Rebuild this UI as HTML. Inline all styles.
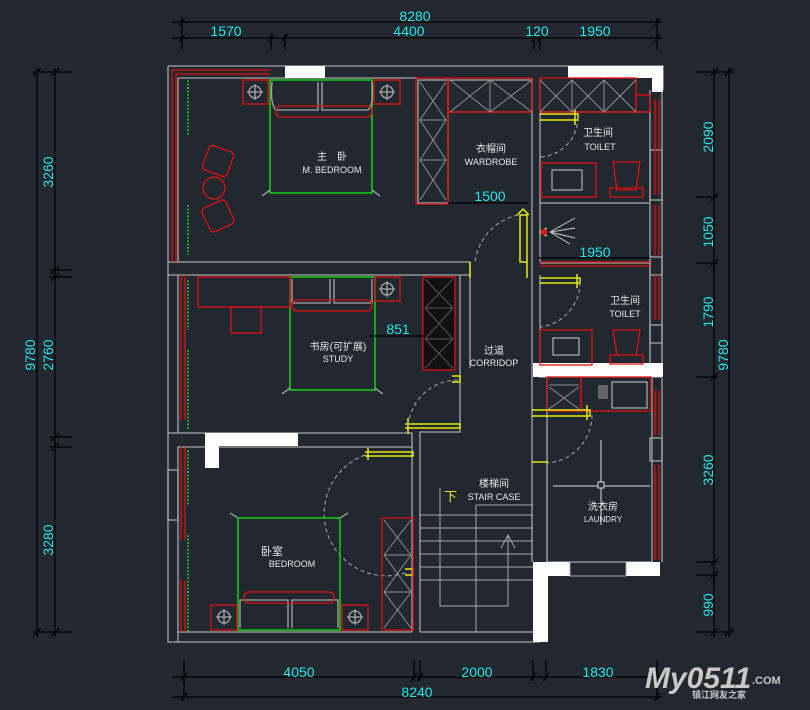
<!DOCTYPE html>
<html><head><meta charset="utf-8"><style>
html,body{margin:0;padding:0;background:#212830;}
svg{display:block}
text{font-family:"Liberation Sans","Noto Sans CJK SC",sans-serif;}
.c{fill:#22e6e6;font-size:14px;}
.w{fill:#e8e8e8;font-size:10px;text-anchor:middle}
.g{stroke:#a8a8a8;fill:none;stroke-width:1.3}
.r{stroke:#e01010;fill:none;stroke-width:1.3}
.gr{stroke:#10d010;fill:none;stroke-width:1.5}
.y{stroke:#e8e810;fill:none;stroke-width:1.5}
.k{stroke:#000;stroke-width:1.2;fill:none}
.wh{fill:#fff}
</style></head><body>
<svg width="810" height="710" viewBox="0 0 810 710">
<!-- TOP DIMENSIONS -->
<g class="k">
<line x1="172" y1="22" x2="662" y2="22"/><line x1="172" y1="38" x2="662" y2="38"/>
<path d="M182 18V50M271 34V50M285 34V50M534 34V50M540 34V50M657 18V50"/>
<path d="M179 26l6-8M179 42l6-8M268 42l6-8M282 42l6-8M531 42l6-8M537 42l6-8M654 26l6-8M654 42l6-8"/>
</g>
<text class="c" x="415" y="21" text-anchor="middle">8280</text>
<text class="c" x="226" y="36" text-anchor="middle">1570</text>
<text class="c" x="409" y="36" text-anchor="middle">4400</text>
<text class="c" x="537" y="36" text-anchor="middle">120</text>
<text class="c" x="595" y="36" text-anchor="middle">1950</text>
<!-- LEFT DIMENSIONS -->
<g class="k">
<line x1="37" y1="68" x2="37" y2="637"/><line x1="55" y1="68" x2="55" y2="637"/>
<path d="M33 72H72M33 632H72M50 270H72M50 277H72M50 437H72M50 447H72"/>
<path d="M33 76l8-8M51 76l8-8M51 274l8-8M51 281l8-8M51 441l8-8M51 451l8-8M33 636l8-8M51 636l8-8"/>
</g>
<text class="c" transform="translate(53,172) rotate(-90)" text-anchor="middle">3260</text>
<text class="c" transform="translate(53,355) rotate(-90)" text-anchor="middle">2760</text>
<text class="c" transform="translate(53,540) rotate(-90)" text-anchor="middle">3280</text>
<text class="c" transform="translate(35,355) rotate(-90)" text-anchor="middle">9780</text>
<!-- RIGHT DIMENSIONS -->
<g class="k">
<line x1="714" y1="68" x2="714" y2="637"/><line x1="729" y1="68" x2="729" y2="637"/>
<path d="M696 72H734M696 197H718M696 263H718M696 377H718M696 562H718M696 575H718M696 632H734"/>
<path d="M710 76l8-8M710 201l8-8M710 267l8-8M710 381l8-8M710 566l8-8M710 579l8-8M710 636l8-8M725 636l8-8M725 76l8-8"/>
</g>
<text class="c" transform="translate(713,137) rotate(-90)" text-anchor="middle">2090</text>
<text class="c" transform="translate(713,232) rotate(-90)" text-anchor="middle">1050</text>
<text class="c" transform="translate(713,312) rotate(-90)" text-anchor="middle">1790</text>
<text class="c" transform="translate(713,470) rotate(-90)" text-anchor="middle">3260</text>
<text class="c" transform="translate(713,605) rotate(-90)" text-anchor="middle">990</text>
<text class="c" transform="translate(728,355) rotate(-90)" text-anchor="middle">9780</text>
<!-- BOTTOM DIMENSIONS -->
<g class="k">
<line x1="172" y1="677" x2="662" y2="677"/><line x1="172" y1="697" x2="662" y2="697"/>
<path d="M184 660V700M414 660V681M420 660V681M533 660V681M546 660V681M657 660V700"/>
<path d="M181 681l6-8M411 681l6-8M417 681l6-8M530 681l6-8M543 681l6-8M654 681l6-8M181 701l6-8M654 701l6-8"/>
</g>
<text class="c" x="299" y="677" text-anchor="middle">4050</text>
<text class="c" x="477" y="677" text-anchor="middle">2000</text>
<text class="c" x="598" y="677" text-anchor="middle">1830</text>
<text class="c" x="417" y="697" text-anchor="middle">8240</text>
<!-- LOGO -->
<text x="645" y="688" style="font-size:30px;font-weight:bold;fill:#c8c8c8;font-style:italic">My0511</text>
<text x="752" y="684" style="font-size:11px;font-weight:bold;fill:#c8c8c8">.COM</text>
<text x="692" y="698" style="font-size:9px;font-weight:bold;fill:#c8c8c8">镇江网友之家</text>

<!-- WALLS -->
<g class="g">
<path d="M168 66H663V90M168 66V642H540"/>
<path d="M178 78H418M178 78V262M168 262H470V275H168M178 275V433"/>
<path d="M168 433H412V447H178V632H412"/>
<path d="M178 632V642"/>
<rect x="418" y="80" width="30" height="123"/>
<path d="M448 80H532V112H448"/>
<path d="M532 78V262M540 78V262M540 203H650M540 263H650M540 112H650"/>
<path d="M650 90V377M662 90V377"/>
<path d="M470 275V368M460 275V432H420V632M412 447V632"/>
<path d="M532 262V562M540 275V378M547 378V562M540 377H662M547 562H652M652 378V562M662 378V562"/>
<path d="M420 632H540"/>
</g>
<rect class="wh" x="285" y="66" width="40" height="12"/>
<rect class="wh" x="568" y="66" width="95" height="12"/>
<rect class="wh" x="652" y="66" width="11" height="26"/>
<rect class="wh" x="533" y="363" width="130" height="14"/>
<rect class="wh" x="205" y="433" width="93" height="13"/>
<rect class="wh" x="205" y="433" width="14" height="35"/>
<rect class="wh" x="533" y="562" width="37" height="14"/>
<rect class="wh" x="626" y="562" width="34" height="14"/>
<rect class="wh" x="533" y="562" width="15" height="80"/>
<rect x="570" y="562" width="56" height="14" fill="none" stroke="#a8a8a8"/>
<g class="g"><rect x="650" y="150" width="12" height="50"/><rect x="650" y="257" width="12" height="18"/><rect x="650" y="325" width="12" height="18"/><rect x="650" y="438" width="12" height="23"/><rect x="168" y="470" width="10" height="50"/></g>
<g class="r">
<path d="M172 70V262M176 74V262M172 70H270M176 74H270"/>
<path d="M181 275V420M185 275V420M181 447V540M185 447V540M181 580V632M185 580V632"/>
<path d="M655 100V195M659 100V195M655 205V255M659 205V255M655 275V320M659 275V320M655 390V435M659 390V435M655 465V560M659 465V560"/>
</g>
<g stroke="#10d010" stroke-width="1.5" fill="none" stroke-dasharray="2 1.5">
<path d="M188 80V135M188 205V255M188 280V330M188 350V430M188 450V505M188 535V632"/>
</g>
<!-- MASTER BEDROOM -->
<rect class="gr" x="270" y="80" width="102" height="113"/>
<g class="g"><path d="M272 82Q270 105 276 110H318V82M322 82V110H368Q374 105 372 82"/><path d="M270 190l-8 6M372 190l8 6"/></g>
<rect class="r" x="276" y="106" width="96" height="11" rx="5"/>
<rect class="r" x="243" y="80" width="25" height="24"/><rect class="r" x="374" y="80" width="26" height="24"/>
<g class="g"><circle cx="255" cy="92" r="6"/><circle cx="387" cy="92" r="6"/><path d="M247 92H263M255 84V100M379 92H395M387 84V100"/></g>
<g class="r"><rect x="205" y="148" width="26" height="26" rx="4" transform="rotate(20 218 161)"/><circle cx="214" cy="188" r="11"/><rect x="205" y="203" width="26" height="26" rx="4" transform="rotate(-25 218 216)"/></g>
<text class="w" x="332" y="160">主　卧</text><text class="w" x="332" y="173" style="font-size:9px">M. BEDROOM</text>
<g class="r"><rect x="416" y="78" width="32" height="126"/><rect x="448" y="78" width="84" height="34"/></g>
<g stroke="#909090" fill="none"><path d="M420 120H446M420 160H446M420 82L446 120M446 82L420 120M420 120L446 160M446 120L420 160M420 160L446 200M446 160L420 200"/><path d="M490 80V112M450 80L490 112M490 80L450 112M490 80L532 112M532 80L490 112"/></g>
<text class="w" x="491" y="152">衣帽间</text><text class="w" x="491" y="165" style="font-size:9px">WARDROBE</text>
<line x1="448" y1="203" x2="528" y2="203" class="k"/>
<text class="c" x="490" y="201" text-anchor="middle">1500</text>
<!-- TOILET 1 -->
<rect class="r" x="540" y="78" width="96" height="34"/><rect class="r" x="636" y="95" width="14" height="17"/>
<g stroke="#909090" fill="none"><path d="M572 80V112M604 80V112M540 80L572 112M572 80L540 112M572 80L604 112M604 80L572 112M604 80L636 112M636 80L604 112"/></g>
<rect class="r" x="541" y="163" width="55" height="34"/><rect class="g" x="552" y="170" width="30" height="20"/>
<path class="r" d="M613 162H640L636 190H617ZM610 188H643V197H610Z"/>
<text class="w" x="598" y="136">卫生间</text><text class="w" x="600" y="150" style="font-size:9px">TOILET</text>
<path class="y" d="M540 114H578V120H540M575 110V125"/>
<path d="M578 117A40 40 0 0 1 540 157" stroke="#aaa" stroke-dasharray="4 3" fill="none"/>
<path d="M540 232l6-4v8zM550 232l25-14M550 232l25-4M550 232l25 6M550 232l20 12" stroke="#ccc" fill="none"/>
<circle cx="544" cy="232" r="3" fill="#e01010"/>
<line x1="538" y1="258" x2="650" y2="258" class="k"/>
<text class="c" x="595" y="257" text-anchor="middle">1950</text>
<path class="r" d="M540 262H650M540 266H650"/>
<path class="y" d="M520 215H527V262H520ZM517 215l6-6 6 6M527 262V278M470 262V278"/>
<path d="M518 215A55 55 0 0 0 475 262" stroke="#aaa" stroke-dasharray="4 3" fill="none"/>
<!-- TOILET 2 -->
<path class="y" d="M540 278H580V283H540M577 274V288"/>
<path d="M580 282A45 45 0 0 1 540 327" stroke="#aaa" stroke-dasharray="4 3" fill="none"/>
<rect class="r" x="540" y="330" width="52" height="35"/><rect class="g" x="553" y="338" width="26" height="17"/>
<path class="r" d="M613 330H640L636 355H617ZM610 355H643V364H610Z"/>
<text class="w" x="625" y="304">卫生间</text><text class="w" x="625" y="317" style="font-size:9px">TOILET</text>
<!-- STUDY -->
<rect class="gr" x="290" y="277" width="85" height="113"/>
<g class="g"><path d="M292 279V303H330V279M334 279V303H372V279M290 388l-8 6M375 388l8 6"/></g>
<rect class="r" x="292" y="300" width="80" height="11" rx="5"/>
<rect class="r" x="198" y="277" width="92" height="30"/><rect class="r" x="231" y="307" width="30" height="26"/>
<rect class="r" x="375" y="277" width="25" height="24"/>
<g class="g"><circle cx="387" cy="289" r="6"/><path d="M379 289H395M387 281V297"/></g>
<rect x="423" y="277" width="32" height="93" fill="#111" stroke="#e01010" stroke-width="1.3"/>
<path d="M425 308H453M425 339H453M425 279L453 308M453 279L425 308M425 308L453 339M453 308L425 339M425 339L453 368M453 339L425 368" stroke="#555"/>
<text class="w" x="338" y="350">书房(可扩展)</text><text class="w" x="338" y="362" style="font-size:9px">STUDY</text>
<line x1="370" y1="336" x2="425" y2="336" class="k"/>
<text class="c" x="398" y="334" text-anchor="middle">851</text>
<text class="w" x="494" y="354">过道</text><text class="w" x="494" y="366" style="font-size:9px">CORRIDOP</text>
<path class="y" d="M452 376h8v6h-8M405 424H460V428H405M408 418v16"/>
<path d="M458 380A50 50 0 0 0 408 428" stroke="#aaa" stroke-dasharray="4 3" fill="none"/>
<!-- LAUNDRY -->
<rect class="r" x="547" y="377" width="34" height="34"/><rect class="r" x="581" y="377" width="70" height="34"/>
<path d="M549 385H579M549 387L579 409M579 387L549 409" stroke="#909090"/>
<rect x="598" y="385" width="10" height="14" fill="#666"/><rect class="g" x="612" y="382" width="35" height="26"/>
<path class="y" d="M532 410H590V416H532M587 405V420M532 462H548"/>
<path d="M592 415A48 48 0 0 1 546 463" stroke="#aaa" stroke-dasharray="4 3" fill="none"/>
<path d="M553 486H650M601 440V525" stroke="#ddd"/><rect x="598" y="482" width="6" height="6" fill="#212830" stroke="#ddd"/>
<text class="w" x="603" y="510">洗衣房</text><text class="w" x="603" y="522" style="font-size:8px">LAUNDRY</text>
<!-- STAIRS -->
<g stroke="#a8a8a8" fill="none">
<path d="M420 515H533M420 528H533M420 541H533M420 554H533M420 567H533M420 580H533"/>
<path d="M476 505H533M476 505V632M440 488V606H508V535M501 548l7-13 7 13"/>
</g>
<text x="444" y="501" style="fill:#e8e810;font-size:13px">下</text>
<text class="w" x="494" y="487">楼梯间</text><text class="w" x="494" y="500" style="font-size:9px">STAIR CASE</text>
<!-- BEDROOM -->
<path class="y" d="M365 452H413V456H365M368 448v12M405 569h8v6h-8"/>
<path d="M365 455A60 60 0 0 0 408 572" stroke="#aaa" stroke-dasharray="4 3" fill="none"/>
<rect class="gr" x="238" y="518" width="102" height="112"/>
<g class="g"><path d="M240 628V600H288V628M292 628V600H338V628M238 518l-8-5M340 518l8-5"/></g>
<rect class="r" x="244" y="592" width="90" height="11" rx="5"/>
<rect class="r" x="211" y="605" width="26" height="25"/><rect class="r" x="342" y="605" width="26" height="25"/>
<g class="g"><circle cx="224" cy="617" r="6"/><circle cx="355" cy="617" r="6"/><path d="M216 617H232M224 609V625M347 617H363M355 609V625"/></g>
<rect class="r" x="382" y="518" width="31" height="112"/>
<path d="M384 555H411M384 592H411M384 520L411 555M411 520L384 555M384 555L411 592M411 555L384 592M384 592L411 628M411 592L384 628" stroke="#909090"/>
<text class="w" x="272" y="555" style="font-size:11px">卧室</text><text class="w" x="292" y="567" style="font-size:9px">BEDROOM</text>
</svg>
</body></html>
